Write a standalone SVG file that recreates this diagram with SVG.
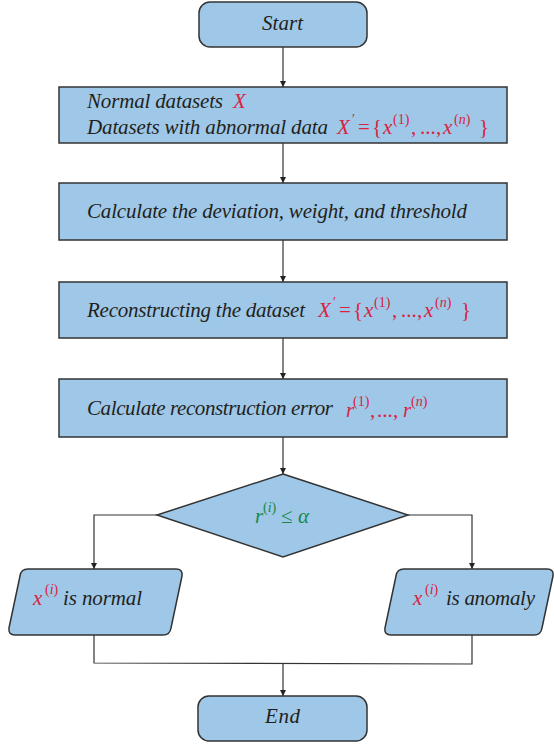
<svg xmlns="http://www.w3.org/2000/svg" width="554" height="744" viewBox="0 0 554 744">
<style>
.node{fill:#9fc8e8;stroke:#333;stroke-width:1.5}
.t{font-family:"Liberation Serif","Times New Roman",serif;font-style:italic;font-size:21px;fill:#231f20}
.r{fill:#d9233f}
.g{fill:#17874a}
.up{font-style:normal}
.sup{font-size:14px}
.c{fill:none;stroke:#333;stroke-width:1.2}
</style>
<defs>
<marker id="ah" viewBox="0 0 10 10" refX="10" refY="5" markerWidth="6" markerHeight="6" orient="auto" markerUnits="userSpaceOnUse">
<path d="M0,0 L10,5 L0,10 z" fill="#222"/>
</marker>
</defs>
<rect width="554" height="744" fill="#fff"/>
<g id="connectors">
<line class="c" x1="283" y1="47" x2="283" y2="87" marker-end="url(#ah)"/>
<line class="c" x1="283" y1="143" x2="283" y2="183" marker-end="url(#ah)"/>
<line class="c" x1="283" y1="240" x2="283" y2="282" marker-end="url(#ah)"/>
<line class="c" x1="283" y1="338" x2="283" y2="379" marker-end="url(#ah)"/>
<line class="c" x1="283" y1="437" x2="283" y2="474" marker-end="url(#ah)"/>
<polyline class="c" points="157,515 94,515 94,569" marker-end="url(#ah)"/>
<polyline class="c" points="408,515 472,515 472,569" marker-end="url(#ah)"/>
<polyline class="c" points="94,635 94,663 472,664 472,635"/>
<line class="c" x1="283" y1="663" x2="283" y2="696" marker-end="url(#ah)"/>
</g>
<g id="start">
<rect class="node" x="199" y="2" width="168" height="45" rx="11"/>
<text class="t" x="262" y="30" textLength="41">Start</text>
</g>
<g id="input">
<rect class="node" x="59" y="87" width="448" height="56"/>
<text class="t" x="87" y="108" textLength="136">Normal datasets</text>
<text class="t r" x="233" y="108">X</text>
<text class="t" x="87" y="134" textLength="241">Datasets with abnormal data</text>
<text class="t r" y="134"><tspan x="337">X</tspan><tspan class="up sup" x="352" y="124">′</tspan><tspan class="up" x="358" y="134">=</tspan><tspan class="up" x="372">{</tspan><tspan x="383">x</tspan><tspan class="up sup" x="393" y="124">(1)</tspan><tspan class="up" x="411" y="134">,</tspan><tspan class="up" x="420">...</tspan><tspan class="up" x="436">,</tspan><tspan x="443">x</tspan><tspan class="up sup" x="454" y="124">(</tspan><tspan class="sup" y="124">n</tspan><tspan class="up sup" y="124">)</tspan><tspan class="up" x="479" y="134">}</tspan></text>
</g>
<g id="calc">
<rect class="node" x="59" y="183" width="448" height="57"/>
<text class="t" x="87" y="218" textLength="380">Calculate the deviation, weight, and threshold</text>
</g>
<g id="reconstruct">
<rect class="node" x="59" y="282" width="448" height="56"/>
<text class="t" x="87" y="317" textLength="218">Reconstructing the dataset</text>
<text class="t r" y="317"><tspan x="318">X</tspan><tspan class="up sup" x="333" y="307">′</tspan><tspan class="up" x="339" y="317">=</tspan><tspan class="up" x="353">{</tspan><tspan x="364">x</tspan><tspan class="up sup" x="374" y="307">(1)</tspan><tspan class="up" x="392" y="317">,</tspan><tspan class="up" x="401">...</tspan><tspan class="up" x="417">,</tspan><tspan x="424">x</tspan><tspan class="up sup" x="435" y="307">(</tspan><tspan class="sup" y="307">n</tspan><tspan class="up sup" y="307">)</tspan><tspan class="up" x="461" y="317">}</tspan></text>
</g>
<g id="error">
<rect class="node" x="59" y="379" width="448" height="58"/>
<text class="t" x="87" y="415" textLength="246">Calculate reconstruction error</text>
<text class="t r" y="417"><tspan x="346">r</tspan><tspan class="up sup" x="353" y="406">(1)</tspan><tspan class="up" x="370" y="417">,</tspan><tspan class="up" x="377">...</tspan><tspan class="up" x="393">,</tspan><tspan x="403">r</tspan><tspan class="up sup" x="411" y="406">(</tspan><tspan class="sup" y="406">n</tspan><tspan class="up sup" y="406">)</tspan></text>
</g>
<g id="decision">
<polygon class="node" points="283,474 408,515 283,557 157,515"/>
<text class="t g" y="523"><tspan x="255">r</tspan><tspan class="up sup" x="263" y="512">(</tspan><tspan class="sup" y="512">i</tspan><tspan class="up sup" y="512">)</tspan><tspan class="up" x="281" y="523">≤</tspan><tspan x="298">α</tspan></text>
</g>
<g id="normal">
<path class="node" d="M28,569 L176,569 Q183,569 182,576 L171,628 Q170,635 163,635 L15,635 Q8,635 9,628 L20,576 Q21,569 28,569 Z"/>
<text class="t" y="605"><tspan class="r" x="33">x</tspan><tspan class="r up sup" x="45" y="594">(</tspan><tspan class="r sup" y="594">i</tspan><tspan class="r up sup" y="594">)</tspan><tspan x="63" y="605" textLength="79">is normal</tspan></text>
</g>
<g id="anomaly">
<path class="node" d="M404,569 L547,569 Q554,569 553,576 L542,628 Q541,635 534,635 L391,635 Q384,635 385,628 L396,576 Q397,569 404,569 Z"/>
<text class="t" y="605"><tspan class="r" x="413">x</tspan><tspan class="r up sup" x="425" y="594">(</tspan><tspan class="r sup" y="594">i</tspan><tspan class="r up sup" y="594">)</tspan><tspan x="446" y="605" textLength="89">is anomaly</tspan></text>
</g>
<g id="end">
<rect class="node" x="198" y="696" width="169" height="45" rx="11"/>
<text class="t" x="265" y="723" textLength="35">End</text>
</g>
</svg>
